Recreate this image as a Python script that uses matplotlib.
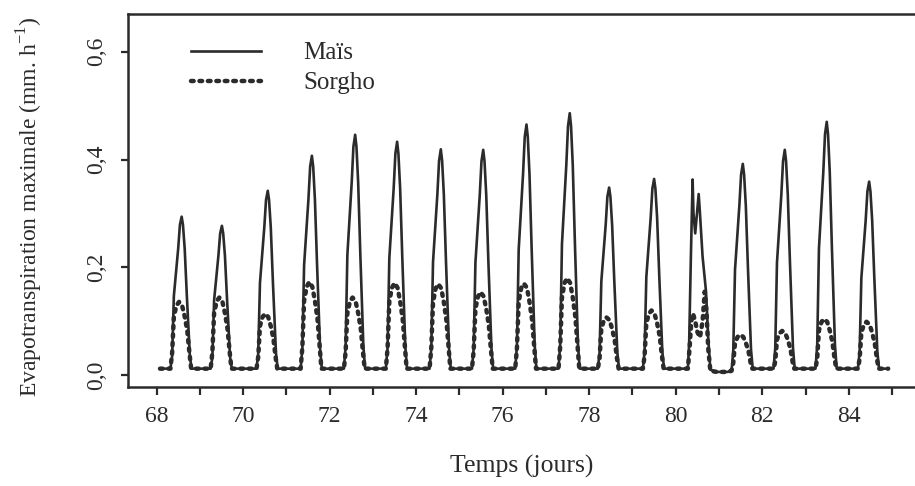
import matplotlib
matplotlib.use("Agg")
import matplotlib.pyplot as plt
from matplotlib.ticker import FixedLocator

# ---- data (time in days, ET in mm/h) ----
mais_t = [68.08,
    68.32, 68.36, 68.40, 68.50, 68.54, 68.58, 68.61, 68.65, 68.70, 68.77, 68.81,
    69.25, 69.29, 69.33, 69.43, 69.47, 69.51, 69.54, 69.58, 69.63, 69.70, 69.74,
    70.31, 70.35, 70.39, 70.49, 70.53, 70.57, 70.60, 70.64, 70.69, 70.76, 70.80,
    71.33, 71.37, 71.41, 71.51, 71.55, 71.59, 71.62, 71.66, 71.71, 71.78, 71.82,
    72.33, 72.37, 72.41, 72.51, 72.55, 72.59, 72.62, 72.66, 72.71, 72.78, 72.82,
    73.30, 73.34, 73.38, 73.48, 73.52, 73.56, 73.59, 73.63, 73.68, 73.75, 73.79,
    74.31, 74.35, 74.39, 74.49, 74.53, 74.57, 74.60, 74.64, 74.69, 74.76, 74.80,
    75.29, 75.33, 75.37, 75.47, 75.51, 75.55, 75.58, 75.62, 75.67, 75.74, 75.78,
    76.29, 76.33, 76.37, 76.47, 76.51, 76.55, 76.58, 76.62, 76.67, 76.74, 76.78,
    77.29, 77.33, 77.37, 77.47, 77.51, 77.55, 77.58, 77.62, 77.67, 77.74, 77.78,
    78.20, 78.24, 78.28, 78.38, 78.42, 78.46, 78.49, 78.53, 78.58, 78.65, 78.69,
    79.24, 79.28, 79.32, 79.42, 79.46, 79.50, 79.53, 79.57, 79.62, 79.69, 79.73,
    80.28, 80.31, 80.35, 80.39, 80.41, 80.45, 80.50, 80.53, 80.56, 80.62, 80.70, 80.75, 80.80,
    80.95, 81.20,
    81.29, 81.33, 81.37, 81.47, 81.51, 81.55, 81.58, 81.62, 81.67, 81.74, 81.78,
    82.26, 82.30, 82.34, 82.44, 82.48, 82.52, 82.55, 82.59, 82.64, 82.71, 82.75,
    83.23, 83.27, 83.31, 83.41, 83.45, 83.49, 83.52, 83.56, 83.61, 83.68, 83.72,
    84.21, 84.25, 84.29, 84.39, 84.43, 84.47, 84.50, 84.54, 84.59, 84.66, 84.70,
    84.91]
mais_v = [0.012,
    0.012, 0.035, 0.147, 0.235, 0.279, 0.294, 0.279, 0.235, 0.147, 0.035, 0.012,
    0.012, 0.033, 0.139, 0.222, 0.263, 0.277, 0.263, 0.222, 0.139, 0.033, 0.012,
    0.012, 0.041, 0.171, 0.274, 0.325, 0.342, 0.325, 0.274, 0.171, 0.041, 0.012,
    0.012, 0.049, 0.204, 0.326, 0.387, 0.407, 0.387, 0.326, 0.204, 0.049, 0.012,
    0.012, 0.054, 0.223, 0.357, 0.424, 0.446, 0.424, 0.357, 0.223, 0.054, 0.012,
    0.012, 0.052, 0.217, 0.346, 0.411, 0.433, 0.411, 0.346, 0.217, 0.052, 0.012,
    0.012, 0.050, 0.210, 0.335, 0.398, 0.419, 0.398, 0.335, 0.210, 0.050, 0.012,
    0.012, 0.050, 0.209, 0.334, 0.397, 0.418, 0.397, 0.334, 0.209, 0.050, 0.012,
    0.012, 0.056, 0.233, 0.372, 0.442, 0.465, 0.442, 0.372, 0.233, 0.056, 0.012,
    0.012, 0.058, 0.243, 0.389, 0.462, 0.486, 0.462, 0.389, 0.243, 0.058, 0.012,
    0.012, 0.042, 0.174, 0.278, 0.331, 0.348, 0.331, 0.278, 0.174, 0.042, 0.012,
    0.012, 0.044, 0.182, 0.291, 0.346, 0.364, 0.346, 0.291, 0.182, 0.044, 0.012,
    0.012, 0.060, 0.220, 0.363, 0.300, 0.263, 0.310, 0.336, 0.300, 0.220, 0.155, 0.070, 0.010,
    0.006, 0.006,
    0.008, 0.047, 0.196, 0.314, 0.372, 0.392, 0.372, 0.314, 0.196, 0.047, 0.012,
    0.012, 0.050, 0.209, 0.334, 0.397, 0.418, 0.397, 0.334, 0.209, 0.050, 0.012,
    0.012, 0.056, 0.235, 0.376, 0.447, 0.470, 0.447, 0.376, 0.235, 0.056, 0.012,
    0.012, 0.043, 0.180, 0.287, 0.341, 0.359, 0.341, 0.287, 0.180, 0.043, 0.012,
    0.012]

sorgho_t = [68.08,
    68.32, 68.36, 68.40, 68.46, 68.52, 68.59, 68.65, 68.71, 68.76, 68.80,
    69.25, 69.29, 69.33, 69.39, 69.45, 69.52, 69.58, 69.64, 69.69, 69.73,
    70.31, 70.35, 70.39, 70.45, 70.51, 70.58, 70.64, 70.70, 70.75, 70.79,
    71.33, 71.37, 71.41, 71.47, 71.53, 71.60, 71.66, 71.72, 71.77, 71.81,
    72.33, 72.37, 72.41, 72.47, 72.53, 72.60, 72.66, 72.72, 72.77, 72.81,
    73.30, 73.34, 73.38, 73.44, 73.50, 73.57, 73.63, 73.69, 73.74, 73.78,
    74.31, 74.35, 74.39, 74.45, 74.51, 74.58, 74.64, 74.70, 74.75, 74.79,
    75.29, 75.33, 75.37, 75.43, 75.49, 75.56, 75.62, 75.68, 75.73, 75.77,
    76.29, 76.33, 76.37, 76.43, 76.49, 76.56, 76.62, 76.68, 76.73, 76.77,
    77.29, 77.33, 77.37, 77.43, 77.49, 77.56, 77.62, 77.68, 77.73, 77.77,
    78.20, 78.24, 78.28, 78.34, 78.40, 78.47, 78.53, 78.59, 78.64, 78.68,
    79.24, 79.28, 79.32, 79.38, 79.44, 79.51, 79.57, 79.63, 79.68, 79.72,
    80.28, 80.32, 80.36, 80.40, 80.45, 80.50, 80.56, 80.62, 80.67, 80.71, 80.75, 80.80,
    80.95, 81.20,
    81.29, 81.33, 81.37, 81.43, 81.49, 81.56, 81.62, 81.68, 81.73, 81.77,
    82.26, 82.30, 82.34, 82.40, 82.46, 82.53, 82.59, 82.65, 82.70, 82.74,
    83.23, 83.27, 83.31, 83.37, 83.43, 83.50, 83.56, 83.62, 83.67, 83.71,
    84.21, 84.25, 84.29, 84.35, 84.41, 84.48, 84.54, 84.60, 84.65, 84.69,
    84.91]
sorgho_v = [0.012,
    0.012, 0.041, 0.109, 0.129, 0.136, 0.129, 0.109, 0.082, 0.041, 0.012,
    0.012, 0.043, 0.115, 0.137, 0.144, 0.137, 0.115, 0.086, 0.043, 0.012,
    0.012, 0.034, 0.091, 0.108, 0.114, 0.108, 0.091, 0.068, 0.034, 0.012,
    0.012, 0.052, 0.138, 0.164, 0.173, 0.164, 0.138, 0.104, 0.052, 0.012,
    0.012, 0.043, 0.115, 0.137, 0.144, 0.137, 0.115, 0.086, 0.043, 0.012,
    0.012, 0.051, 0.137, 0.162, 0.171, 0.162, 0.137, 0.103, 0.051, 0.012,
    0.012, 0.051, 0.135, 0.161, 0.169, 0.161, 0.135, 0.101, 0.051, 0.012,
    0.012, 0.046, 0.123, 0.146, 0.154, 0.146, 0.123, 0.092, 0.046, 0.012,
    0.012, 0.051, 0.136, 0.162, 0.170, 0.162, 0.136, 0.102, 0.051, 0.012,
    0.012, 0.054, 0.144, 0.171, 0.180, 0.171, 0.144, 0.108, 0.054, 0.012,
    0.012, 0.032, 0.086, 0.102, 0.107, 0.102, 0.086, 0.064, 0.032, 0.012,
    0.012, 0.036, 0.096, 0.114, 0.120, 0.114, 0.096, 0.072, 0.036, 0.012,
    0.012, 0.050, 0.100, 0.114, 0.100, 0.080, 0.070, 0.100, 0.155, 0.120, 0.050, 0.008,
    0.006, 0.006,
    0.008, 0.023, 0.060, 0.071, 0.075, 0.071, 0.060, 0.045, 0.023, 0.012,
    0.012, 0.025, 0.066, 0.078, 0.082, 0.078, 0.066, 0.049, 0.025, 0.012,
    0.012, 0.031, 0.083, 0.099, 0.104, 0.099, 0.083, 0.062, 0.031, 0.012,
    0.012, 0.030, 0.079, 0.094, 0.099, 0.094, 0.079, 0.059, 0.030, 0.012,
    0.012]

y_ticks = [0.0, 0.2, 0.4, 0.6]
y_ticklabels = ["0,0", "0,2", "0,4", "0,6"]
x_major = [68, 70, 72, 74, 76, 78, 80, 82, 84]
x_minor = [69, 71, 73, 75, 77, 79, 81, 83, 85]
series_names = ["Maïs", "Sorgho"]
xlabel = "Temps (jours)"
ylabel = "Evapotranspiration maximale (mm. h$^{\\mathregular{-1}}$)"

plt.rcParams['font.family'] = ['Liberation Serif', 'DejaVu Serif']
plt.rcParams['mathtext.fontset'] = 'custom'
plt.rcParams['mathtext.rm'] = 'Liberation Serif'

ink = "#2b2b2b"
fig = plt.figure(figsize=(9.15, 4.86), dpi=100)
ax = fig.add_axes([0.1399, 0.2037, 0.8601, 0.7675])

ax.plot(mais_t, mais_v, color=ink, lw=1.9, solid_joinstyle='round', label=series_names[0])
ax.plot(sorgho_t, sorgho_v, color=ink, lw=3.2, linestyle=(0, (0.6, 1.3)),
        dash_capstyle='round', label=series_names[1])

ax.set_xlim(67.34, 85.53)
ax.set_ylim(-0.022, 0.670)

ax.xaxis.set_major_locator(FixedLocator(x_major))
ax.xaxis.set_minor_locator(FixedLocator(x_minor))
ax.set_yticks(y_ticks)
ax.set_yticklabels(y_ticklabels, rotation=90, va='center')
ax.set_xticklabels([str(v) for v in x_major])

ax.tick_params(axis='both', which='both', direction='out', color=ink, width=1.6)
ax.tick_params(axis='x', which='both', length=6, labelsize=17, pad=8, labelcolor=ink)
ax.tick_params(axis='y', which='major', length=5, labelsize=17, pad=10, labelcolor=ink)

for s in ['left', 'bottom', 'top']:
    ax.spines[s].set_color(ink)
    ax.spines[s].set_linewidth(1.8)
ax.spines['right'].set_visible(False)

ax.set_xlabel(xlabel, fontsize=18.5, color=ink, labelpad=20)
ax.set_ylabel(ylabel, fontsize=17, color=ink, labelpad=30)
ax.yaxis.label.set_y(0.483)

leg = ax.legend(loc='upper left', bbox_to_anchor=(0.08, 0.925), frameon=False,
                fontsize=18, handlelength=2.8, handletextpad=1.7, labelspacing=0.3,
                borderaxespad=0, borderpad=0)
for t in leg.get_texts():
    t.set_color(ink)

fig.savefig("out.png", dpi=100)
